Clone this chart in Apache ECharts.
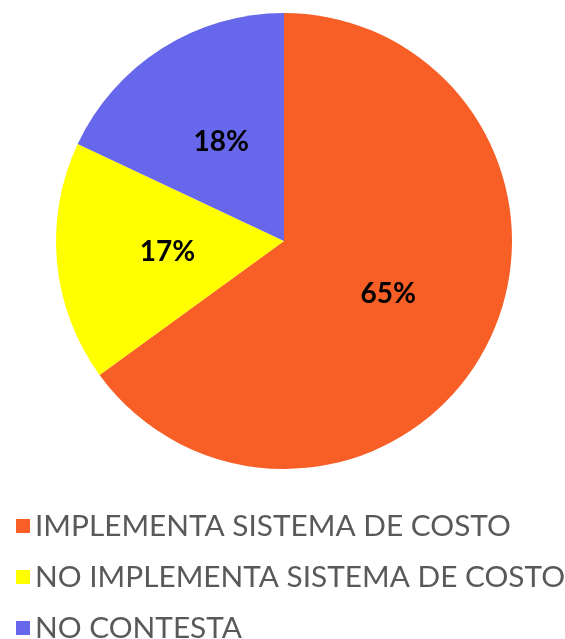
<!DOCTYPE html>
<html>
<head>
<meta charset="utf-8">
<script src="https://cdn.jsdelivr.net/npm/echarts@6/dist/echarts.min.js"></script>
<style>
  html, body { margin: 0; padding: 0; background: #fff; }
  #main { width: 565px; height: 639px; }
</style>
</head>
<body>
<div id="main"></div>
<script>
// datos del gráfico
var categories = ['IMPLEMENTA SISTEMA DE COSTO', 'NO IMPLEMENTA SISTEMA DE COSTO', 'NO CONTESTA']
var values = [65, 17, 18]
var colors = ['#F75F27', '#FFFF00', '#6767EC']

var myChart = echarts.init(document.getElementById('main'))
var option

option = {
  animation: false,
  color: colors,
  legend: {
    orient: 'vertical',
    left: 11,
    top: 506,
    height: 200,
    padding: 5,
    itemWidth: 14,
    itemHeight: 14,
    itemGap: 21,
    icon: 'rect',
    textStyle: {
      color: '#595959',
      fontFamily: 'Lato',
      fontSize: 29.8,
      padding: [0, 0, 0, 0]
    },
    data: categories
  },
  series: [
    {
      type: 'pie',
      radius: 228,
      center: [284, 241],
      startAngle: 90,
      clockwise: true,
      avoidLabelOverlap: false,
      label: {
        position: 'inside',
        formatter: '{d}%',
        color: '#000',
        fontFamily: 'Lato',
        fontWeight: 'bold',
        fontSize: 28
      },
      labelLine: { show: false },
      emphasis: { disabled: true },
      data: categories.map(function (name, i) {
        return { name: name, value: values[i] }
      })
    }
  ]
}

option && myChart.setOption(option)
</script>
</body>
</html>
